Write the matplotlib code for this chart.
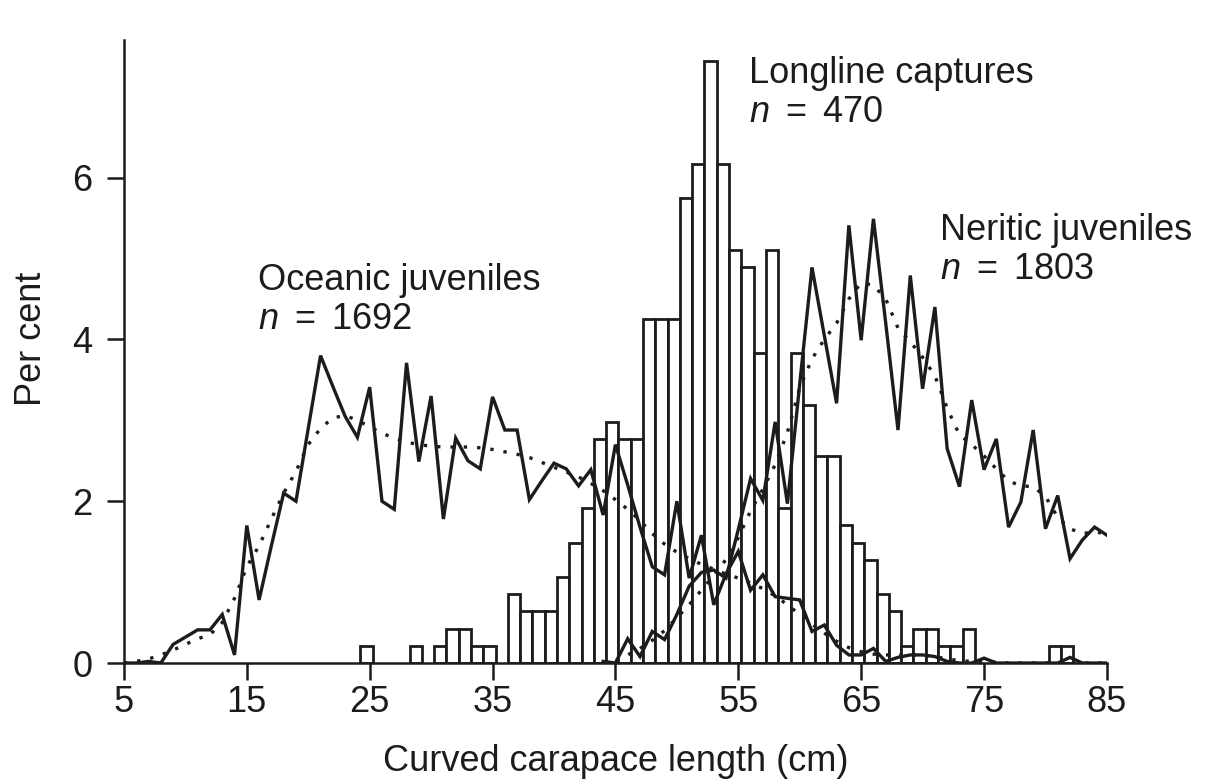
import numpy as np
import matplotlib
matplotlib.use("Agg")
import matplotlib.pyplot as plt

plt.rcParams['font.family'] = ['Liberation Sans', 'DejaVu Sans']
plt.rcParams['mathtext.fontset'] = 'custom'
plt.rcParams['mathtext.rm'] = 'Liberation Sans'
plt.rcParams['mathtext.it'] = 'Liberation Sans:italic'

INK = '#1c1c1c'

# Longline captures (n = 470): counts per 1-cm class
hist_cm = [25, 29, 31, 32, 33, 34, 35, 37, 38, 39, 40, 41, 42, 43, 44, 45, 46, 47,
           48, 49, 50, 51, 52, 53, 54, 55, 56, 57, 58, 59, 60, 61, 62, 63, 64, 65,
           66, 67, 68, 69, 70, 71, 72, 73, 74, 81, 82]
hist_count = [1, 1, 1, 2, 2, 1, 1, 4, 3, 3, 3, 5, 7, 9, 13, 14, 13, 13,
              20, 20, 20, 27, 29, 35, 29, 24, 23, 18, 24, 9, 18, 15, 12, 12, 8, 7,
              6, 4, 3, 1, 2, 2, 1, 1, 2, 1, 1]
n_longline = 470

# Oceanic juveniles (n = 1692), 5..85 cm
oce_cm = list(range(5, 86))
oce_pct = [0, 0, 0.02, 0, 0.23, 0.32, 0.41, 0.41, 0.6, 0.1,
           1.7, 0.78, 1.45, 2.1, 2.0, 2.9, 3.8, 3.42, 3.05, 2.79,
           3.41, 2.0, 1.9, 3.71, 2.49, 3.3, 1.78, 2.78, 2.5, 2.4,
           3.29, 2.88, 2.88, 2.02, 2.25, 2.47, 2.4, 2.19, 2.39, 1.83,
           2.7, 2.2, 1.68, 1.19, 1.09, 2.0, 1.05, 1.58, 0.72, 1.1,
           1.38, 0.9, 1.09, 0.82, 0.8, 0.78, 0.39, 0.47, 0.22, 0.1,
           0.1, 0.18, 0.02, 0.07, 0.1, 0.1, 0.08, 0.02, 0, 0,
           0.06, 0, 0, 0, 0, 0, 0, 0.07, 0, 0, 0]
oce_smooth = [0, 0.02, 0.05, 0.1, 0.16, 0.23, 0.3, 0.35, 0.5, 0.8,
              1.19, 1.45, 1.78, 2.1, 2.37, 2.7, 2.9, 3.03, 3.06, 3.0,
              2.92, 2.84, 2.78, 2.73, 2.7, 2.68, 2.67, 2.67, 2.67, 2.66,
              2.64, 2.61, 2.58, 2.54, 2.48, 2.42, 2.36, 2.3, 2.22, 2.13,
              2.02, 1.9, 1.76, 1.6, 1.47, 1.37, 1.29, 1.22, 1.16, 1.1,
              1.05, 0.99, 0.92, 0.83, 0.72, 0.6, 0.48, 0.37, 0.27, 0.19,
              0.14, 0.11, 0.1, 0.1, 0.1, 0.1, 0.08, 0.05, 0.03, 0.02,
              0.02, 0.01, 0, 0, 0, 0, 0, 0, 0, 0, 0]

# Neritic juveniles (n = 1803), 44..85 cm
ner_cm = list(range(44, 86))
ner_pct = [0.02, 0, 0.3, 0.08, 0.39, 0.29, 0.6, 0.95, 1.12, 1.15,
           1.05, 1.65, 2.28, 2.01, 2.98, 1.97, 3.45, 4.89, 4.05, 3.21,
           5.41, 3.99, 5.49, 4.2, 2.88, 4.79, 3.39, 4.4, 2.65, 2.18,
           3.25, 2.39, 2.77, 1.68, 1.99, 2.88, 1.66, 2.07, 1.29, 1.52,
           1.68, 1.58]
ner_smooth = [0, 0.03, 0.1, 0.18, 0.28, 0.4, 0.56, 0.72, 0.9, 1.08,
              1.28, 1.55, 1.88, 2.15, 2.45, 2.85, 3.4, 3.76, 4.0, 4.2,
              4.5, 4.7, 4.67, 4.5, 4.14, 3.97, 3.78, 3.55, 3.15, 2.82,
              2.7, 2.56, 2.4, 2.25, 2.19, 2.18, 2.06, 1.8, 1.66, 1.6,
              1.62, 1.6]

fig = plt.figure(figsize=(12.08, 7.84), dpi=100)
ax = fig.add_axes([0.1026, 0.1543, 0.8137, 0.7946])

# histogram bars sit slightly left of the class mark in the original
hist_pct = np.array(hist_count) / n_longline * 100
ax.bar(np.array(hist_cm) - 0.25, hist_pct, width=1.0, facecolor='white',
       edgecolor=INK, linewidth=2.0, zorder=2)

ax.plot(oce_cm, oce_pct, color=INK, lw=2.4, zorder=3, solid_joinstyle='miter')
ax.plot(ner_cm, ner_pct, color=INK, lw=2.4, zorder=3, solid_joinstyle='miter')
ax.plot(oce_cm, oce_smooth, color=INK, lw=2.4, dashes=(1, 3), zorder=4)
ax.plot(ner_cm, ner_smooth, color=INK, lw=2.4, dashes=(1, 3), zorder=4)

ax.set_xlim(5, 85)
ax.set_ylim(0, 7.7)
ax.set_xticks(range(5, 86, 10))
ax.set_yticks([0, 2, 4, 6])

for s in ['top', 'right']:
    ax.spines[s].set_visible(False)
for s in ['left', 'bottom']:
    ax.spines[s].set_linewidth(1.8)
    ax.spines[s].set_color(INK)

ax.tick_params(direction='out', length=12.5, width=1.8, color=INK,
               labelsize=26, labelcolor=INK)
ax.tick_params(axis='x', pad=3.5)
ax.tick_params(axis='y', pad=10)

ax.set_xlabel('Curved carapace length (cm)', fontsize=26, color=INK)
ax.set_ylabel('Per cent', fontsize=26, color=INK)
ax.xaxis.set_label_coords(0.5, -0.13)
ax.yaxis.set_label_coords(-0.076, 0.52)

ax.text(15.9, 4.49, 'Oceanic juveniles\n$n$ $=$ 1692', fontsize=26, color=INK,
        ha='left', va='center', linespacing=1.15)
ax.text(55.9, 7.05, 'Longline captures\n$n$ $=$ 470', fontsize=26, color=INK,
        ha='left', va='center', linespacing=1.15)
ax.text(71.4, 5.11, 'Neritic juveniles\n$n$ $=$ 1803', fontsize=26, color=INK,
        ha='left', va='center', linespacing=1.15)

fig.savefig('out.png', dpi=100)
